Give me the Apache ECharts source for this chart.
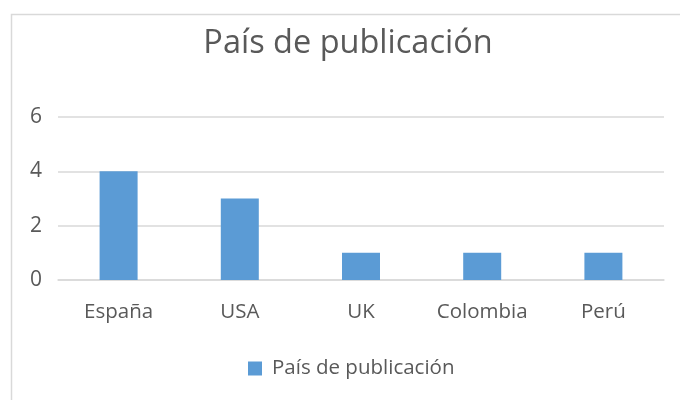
<!DOCTYPE html>
<html><head><meta charset="utf-8">
<script src="https://cdn.jsdelivr.net/npm/echarts@6/dist/echarts.min.js"></script>
<style>html,body{margin:0;padding:0;background:#fff;}#c{width:680px;height:400px;}</style>
</head><body><div id="c"></div>
<script>
const categories = ['España', 'USA', 'UK', 'Colombia', 'Perú'];
const values = [4, 3, 1, 1, 1];
const seriesName = 'País de publicación';
const titleText = 'País de publicación';

const chart = echarts.init(document.getElementById('c'));
const font = "'Open Sans', 'Noto Sans', sans-serif";
chart.setOption({
  animation: false,
  graphic: [{
    type: 'rect', shape: {x: 11.5, y: 14.5, width: 700, height: 400},
    style: {fill: 'none', stroke: '#d9d9d9', lineWidth: 1.5}, z: -1
  }],
  title: {
    text: titleText, left: 343, top: 22, textAlign: 'center',
    textStyle: {fontFamily: font, fontSize: 32.5, fontWeight: 'normal', color: '#595959'}
  },
  legend: {
    data: [seriesName], left: 243, top: 353, itemWidth: 14, itemHeight: 14, itemGap: 8,
    icon: 'rect',
    textStyle: {fontFamily: font, fontSize: 20.5, color: '#595959', padding: [0, 0, 0, 5]}
  },
  grid: {left: 58, right: 16, top: 117, height: 163, containLabel: false},
  xAxis: {
    type: 'category', data: categories,
    axisLine: {lineStyle: {color: '#d9d9d9', width: 1.5}},
    axisTick: {show: false},
    axisLabel: {fontFamily: font, fontSize: 20.5, color: '#595959', margin: 22}
  },
  yAxis: {
    type: 'value', min: 0, max: 6, interval: 2,
    axisLine: {show: false}, axisTick: {show: false},
    splitLine: {lineStyle: {color: '#d9d9d9', width: 1.5}},
    axisLabel: {fontFamily: font, fontSize: 21, color: '#595959', margin: 16}
  },
  series: [{
    name: seriesName, type: 'bar', data: values, barWidth: 38,
    itemStyle: {color: '#5b9bd5'}
  }]
});
</script></body></html>
